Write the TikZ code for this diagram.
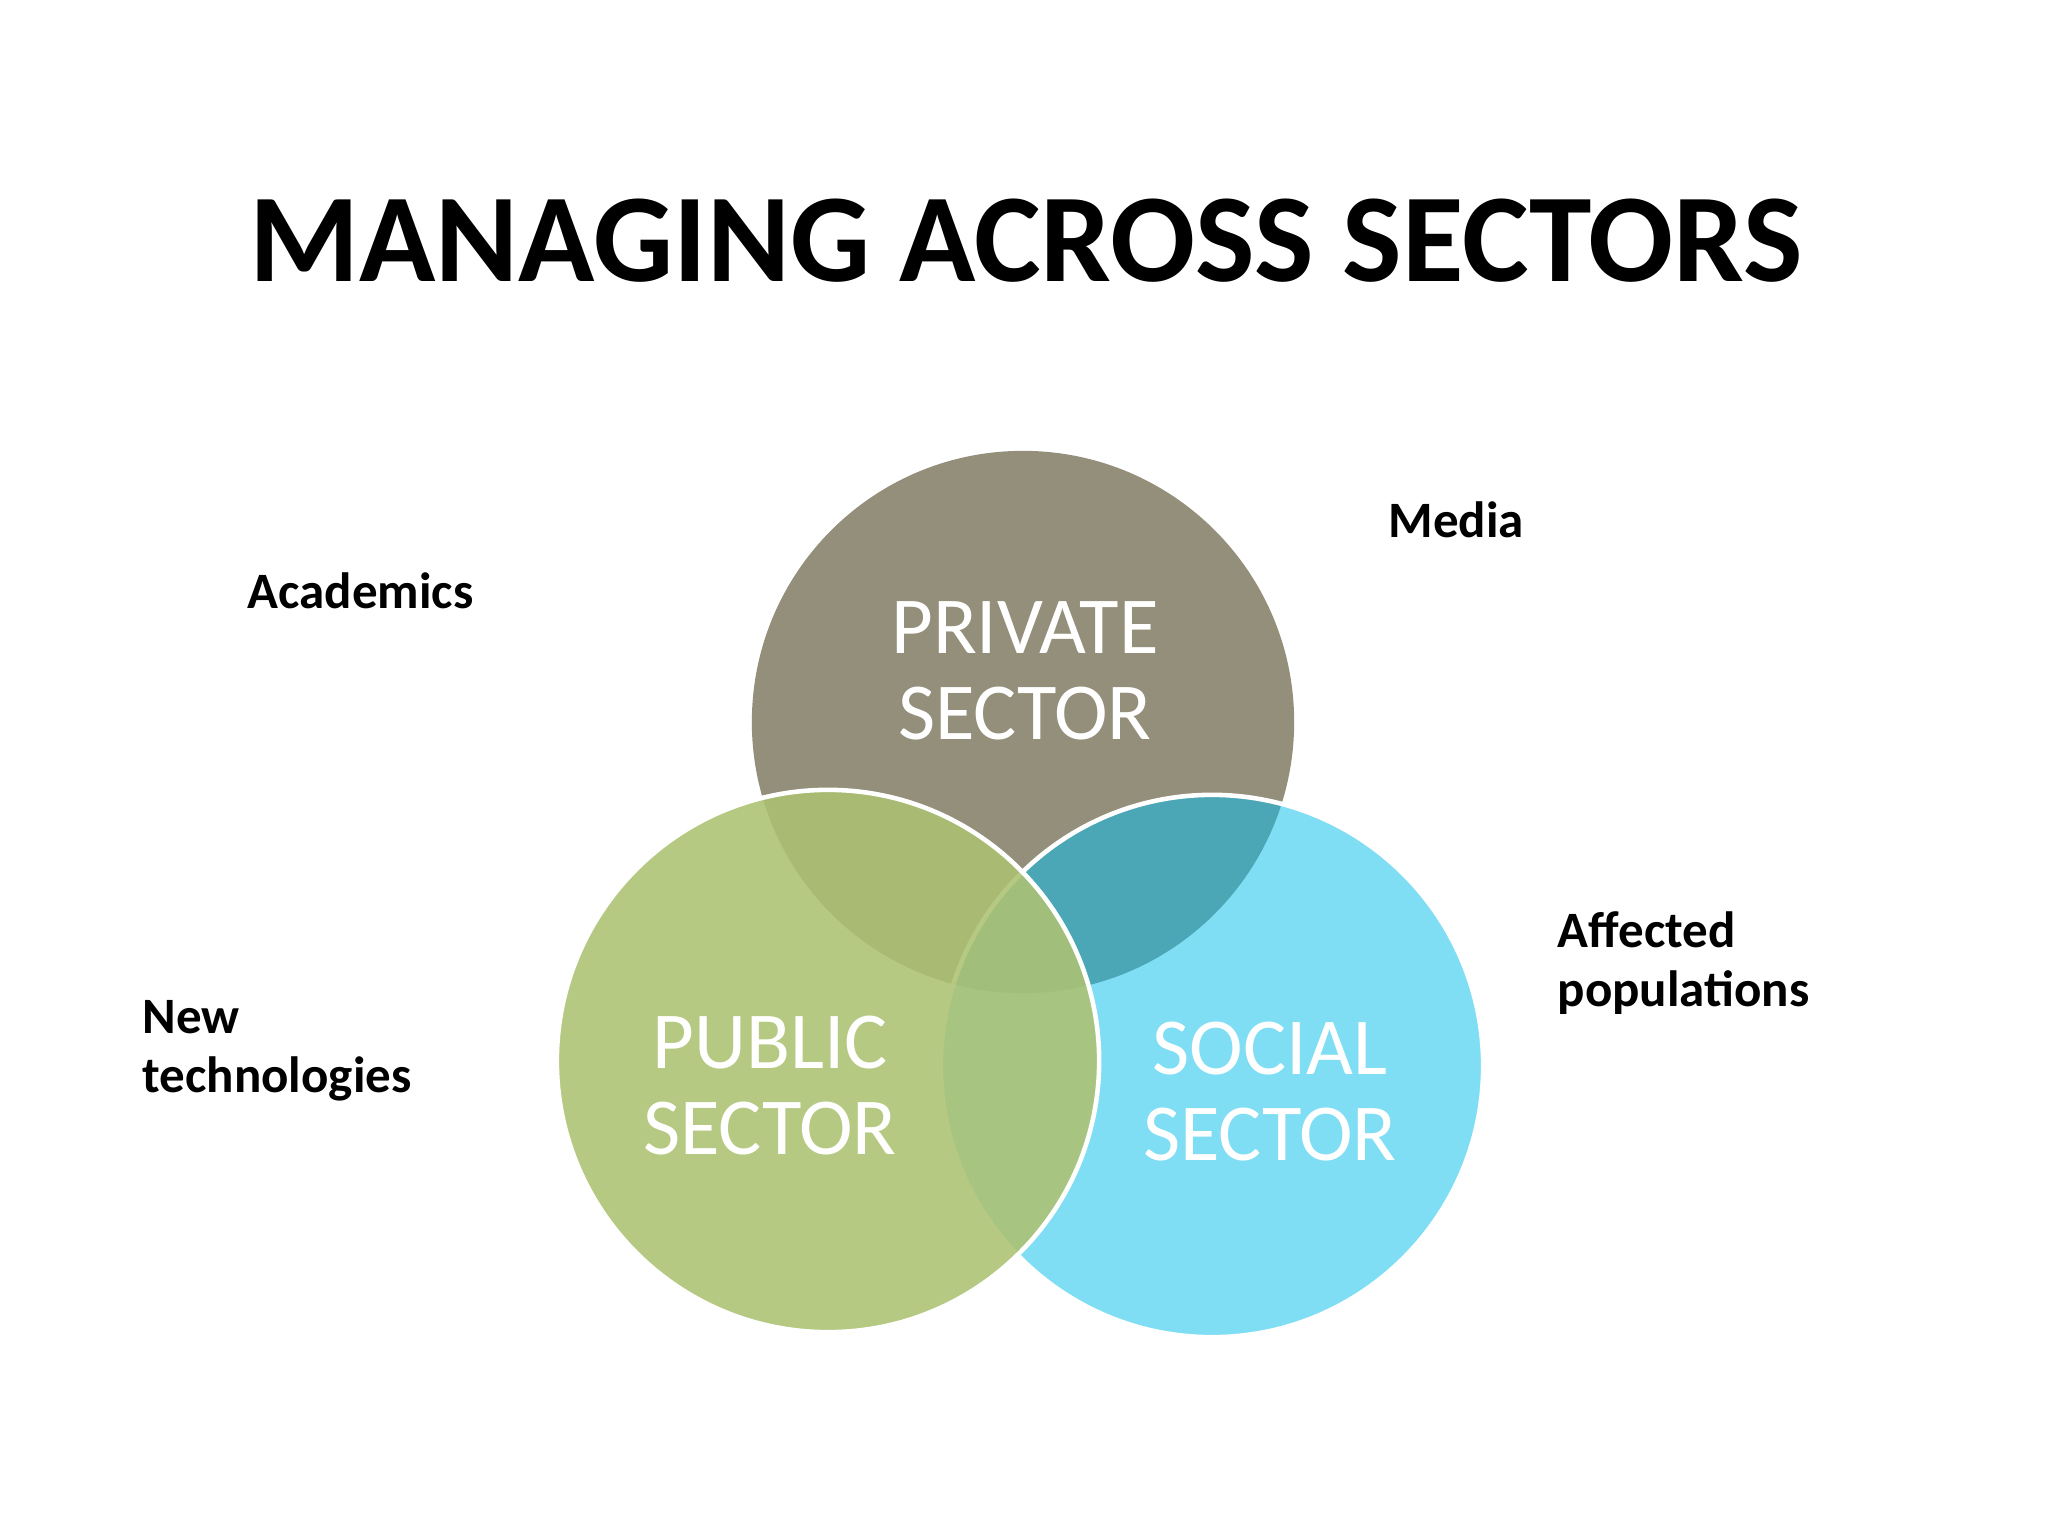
\documentclass[tikz,border=0pt]{standalone}
\usepackage{fontspec}
\setmainfont{Carlito}
\definecolor{privgray}{RGB}{147,143,123}
\definecolor{socblue}{RGB}{10,190,235}
\definecolor{pubgreen}{RGB}{173,194,114}
\begin{document}
\begin{tikzpicture}[x=0.01cm,y=-0.01cm,
  sector/.style={circle,minimum size=5.42cm,inner sep=0pt},
  rim/.style={draw=white,line width=1.3pt},
  sectext/.style={text=white,align=center,inner sep=0pt,anchor=base,font=\fontsize{23}{24.2}\selectfont},
  player/.style={align=left,inner sep=0pt,anchor=base west,font=\bfseries\fontsize{14.5}{16.5}\selectfont}]
\fill[white] (0,0) rectangle (2048,1536);
\useasboundingbox (0,0) rectangle (2048,1536);
\node[anchor=base,inner sep=0pt,font=\bfseries\fontsize{35.8}{40}\selectfont] (title) at (1026,281) {MANAGING ACROSS SECTORS};
% the three sectors
\node[sector,fill=privgray] (priv) at (1023,722) {};
\node[sector,fill=socblue,fill opacity=0.52,rim] (soc) at (1212,1066) {};
\node[sector,fill=pubgreen,fill opacity=0.88,rim] (pub) at (828,1061) {};
\node[sectext] (privtext) at (1025,739) {PRIVATE\\SECTOR};
\node[sectext] (pubtext) at (770,1154) {PUBLIC\\SECTOR};
\node[sectext] (soctext) at (1270,1160) {SOCIAL\\SECTOR};
% outside players
\node[player] (acad) at (247,608) {Academics};
\node[player] (media) at (1388,537) {Media};
\node[player] (newtech) at (142,1092) {New\\technologies};
\node[player] (affected) at (1557,1006) {Affected\\populations};
\end{tikzpicture}
\end{document}
